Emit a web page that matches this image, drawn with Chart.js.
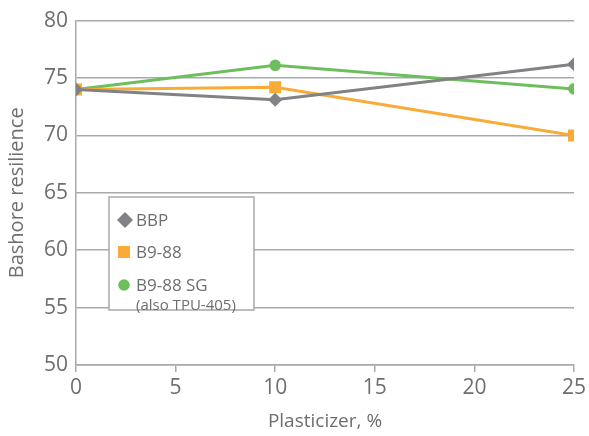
<!DOCTYPE html>
<html>
<head>
<meta charset="utf-8">
<script src="https://cdn.jsdelivr.net/npm/chart.js@4"></script>
<style>
  html, body { margin: 0; padding: 0; background: #fff; }
  #wrap { width: 589px; height: 436px; }
</style>
</head>
<body>
<div id="wrap"><canvas id="myChart" width="589" height="436"></canvas></div>
<script>
// valeurs
const plasticizer = [0, 10, 25];
const bbp = [74, 73.1, 76.2];
const b988 = [74, 74.2, 70];
const b988sg = [74, 76.1, 74.05];
const seriesNames = ['BBP', 'B9-88', 'B9-88 SG'];
const seriesNotes = ['', '', '(also TPU-405)'];
const xTicks = [0, 5, 10, 15, 20, 25];
const yTicks = [50, 55, 60, 65, 70, 75, 80];

const txt = '#6d6e71';
const gridCol = '#a7a9ac';
const font = "'Open Sans', 'Noto Sans', sans-serif";

function pts(ys) {
  return plasticizer.map((x, i) => ({ x: x, y: ys[i] }));
}

// legende dessinee dans la zone du graphique
const boxLegend = {
  id: 'boxLegend',
  afterDraw(chart) {
    const c = chart.ctx;
    const x0 = 109, y0 = 197, w = 145, h = 113;
    c.save();
    c.fillStyle = '#fff';
    c.fillRect(x0, y0, w, h);
    c.strokeStyle = gridCol;
    c.lineWidth = 1.5;
    c.strokeRect(x0, y0, w, h);
    const rows = [220, 252, 285];
    chart.data.datasets.forEach((ds, i) => {
      const cy = rows[i];
      c.fillStyle = ds.backgroundColor;
      const style = ds.pointStyle;
      if (style === 'rectRot') {
        c.beginPath();
        c.moveTo(125, cy - 8); c.lineTo(133, cy); c.lineTo(125, cy + 8); c.lineTo(117, cy);
        c.closePath(); c.fill();
      } else if (style === 'rect') {
        c.fillRect(118, cy - 6, 12, 12);
      } else {
        c.beginPath(); c.arc(124, cy, 5.8, 0, Math.PI * 2); c.fill();
      }
      c.fillStyle = txt;
      c.font = '17px ' + font;
      c.textBaseline = 'middle';
      c.textAlign = 'left';
      c.fillText(seriesNames[i], 136, cy + 1);
      if (seriesNotes[i]) {
        c.font = '15px ' + font;
        c.fillText(seriesNotes[i], 136, cy + 21);
      }
    });
    c.restore();
  }
};

const ctx = document.getElementById('myChart');
new Chart(ctx, {
  type: 'line',
  data: {
    datasets: [
      { label: seriesNames[0], data: pts(bbp), borderColor: '#808285', backgroundColor: '#808285',
        pointStyle: 'rectRot', pointRadius: 7, pointBorderWidth: 0, borderWidth: 3 },
      { label: seriesNames[1], data: pts(b988), borderColor: '#f8ab36', backgroundColor: '#f8ab36',
        pointStyle: 'rect', pointRadius: 8.5, pointBorderWidth: 0, borderWidth: 3 },
      { label: seriesNames[2], data: pts(b988sg), borderColor: '#6cbf5c', backgroundColor: '#6cbf5c',
        pointStyle: 'circle', pointRadius: 5.8, pointBorderWidth: 0, borderWidth: 3 }
    ]
  },
  options: {
    responsive: false,
    animation: false,
    layout: { padding: { left: 0, right: 14, top: 15, bottom: 0 } },
    plugins: {
      legend: { display: false },
      tooltip: { enabled: false },
      title: { display: false }
    },
    elements: { line: { tension: 0 } },
    scales: {
      x: {
        type: 'linear', min: 0, max: 25,
        afterBuildTicks: s => { s.ticks = xTicks.map(v => ({ value: v })); },
        afterFit: s => { s.height = 71; },
        grid: { display: true, drawOnChartArea: false, drawTicks: true, tickLength: 7, color: gridCol, lineWidth: 1.5 },
        border: { color: gridCol, width: 1.5 },
        ticks: { color: txt, font: { family: font, size: 21 }, padding: 3, maxRotation: 0 },
        title: { display: true, text: 'Plasticizer, %', color: txt, font: { family: font, size: 19 }, padding: { top: 0, bottom: 3 } }
      },
      y: {
        type: 'linear', min: 50, max: 80,
        afterBuildTicks: s => { s.ticks = yTicks.map(v => ({ value: v })); },
        afterFit: s => { s.width = 76; },
        grid: { color: gridCol, lineWidth: 1.5, drawTicks: false },
        border: { color: gridCol, width: 1.5 },
        ticks: { color: txt, font: { family: font, size: 21 }, padding: 8 },
        title: { display: true, text: 'Bashore resilience', color: txt, font: { family: font, size: 20 }, padding: { top: 5, bottom: 4 } }
      }
    }
  },
  plugins: [boxLegend]
});
</script>
</body>
</html>
